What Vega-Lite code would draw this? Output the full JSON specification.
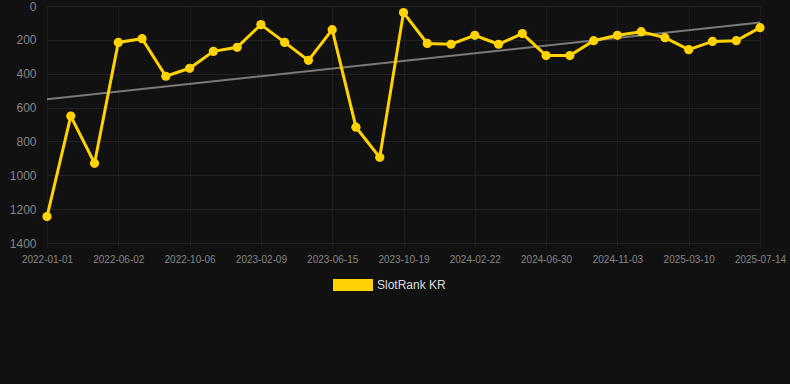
{
  "$schema": "https://vega.github.io/schema/vega-lite/v6.json",
  "width": 713,
  "height": 237,
  "autosize": {"type": "none"},
  "padding": {"left": 47, "top": 6, "right": 30, "bottom": 141},
  "background": "#111111",
  "config": {
    "view": {"stroke": null},
    "font": "Liberation Sans",
    "axis": {
      "gridColor": "#222222",
      "gridWidth": 1,
      "domain": false,
      "labelFont": "Liberation Sans",
      "labelColor": "#858585",
      "title": null
    }
  },
  "datasets": {
    "main": [
      {"date": "2022-01-01", "rank": 1244, "series": "SlotRank KR"},
      {"date": "2022-03-10", "rank": 650, "series": "SlotRank KR"},
      {"date": "2022-04-21", "rank": 929, "series": "SlotRank KR"},
      {"date": "2022-06-02", "rank": 215, "series": "SlotRank KR"},
      {"date": "2022-07-14", "rank": 193, "series": "SlotRank KR"},
      {"date": "2022-08-25", "rank": 415, "series": "SlotRank KR"},
      {"date": "2022-10-06", "rank": 368, "series": "SlotRank KR"},
      {"date": "2022-11-17", "rank": 268, "series": "SlotRank KR"},
      {"date": "2022-12-29", "rank": 244, "series": "SlotRank KR"},
      {"date": "2023-02-09", "rank": 110, "series": "SlotRank KR"},
      {"date": "2023-03-23", "rank": 215, "series": "SlotRank KR"},
      {"date": "2023-05-04", "rank": 321, "series": "SlotRank KR"},
      {"date": "2023-06-15", "rank": 140, "series": "SlotRank KR"},
      {"date": "2023-07-27", "rank": 716, "series": "SlotRank KR"},
      {"date": "2023-09-07", "rank": 894, "series": "SlotRank KR"},
      {"date": "2023-10-19", "rank": 39, "series": "SlotRank KR"},
      {"date": "2023-11-30", "rank": 221, "series": "SlotRank KR"},
      {"date": "2024-01-11", "rank": 226, "series": "SlotRank KR"},
      {"date": "2024-02-22", "rank": 173, "series": "SlotRank KR"},
      {"date": "2024-04-05", "rank": 226, "series": "SlotRank KR"},
      {"date": "2024-05-18", "rank": 163, "series": "SlotRank KR"},
      {"date": "2024-06-30", "rank": 293, "series": "SlotRank KR"},
      {"date": "2024-08-11", "rank": 293, "series": "SlotRank KR"},
      {"date": "2024-09-22", "rank": 205, "series": "SlotRank KR"},
      {"date": "2024-11-03", "rank": 173, "series": "SlotRank KR"},
      {"date": "2024-12-15", "rank": 152, "series": "SlotRank KR"},
      {"date": "2025-01-26", "rank": 187, "series": "SlotRank KR"},
      {"date": "2025-03-10", "rank": 258, "series": "SlotRank KR"},
      {"date": "2025-04-21", "rank": 209, "series": "SlotRank KR"},
      {"date": "2025-06-02", "rank": 205, "series": "SlotRank KR"},
      {"date": "2025-07-14", "rank": 128, "series": "SlotRank KR"}
    ],
    "trend": [
      {"date": "2022-01-01", "rank": 551},
      {"date": "2025-07-14", "rank": 98}
    ]
  },
  "encoding": {
    "x": {
      "field": "date",
      "type": "ordinal",
      "scale": {"type": "point", "padding": 0},
      "axis": {
        "values": ["2022-01-01", "2022-06-02", "2022-10-06", "2023-02-09", "2023-06-15", "2023-10-19", "2024-02-22", "2024-06-30", "2024-11-03", "2025-03-10", "2025-07-14"],
        "labelAngle": 0,
        "labelFontSize": 10,
        "labelPadding": 6,
        "ticks": true,
        "tickColor": "#1d1d1d",
        "gridColor": "#1d1d1d",
        "tickSize": 5,
        "grid": true
      }
    },
    "y": {
      "field": "rank",
      "type": "quantitative",
      "scale": {"domain": [0, 1400], "reverse": true, "nice": false},
      "axis": {
        "values": [0, 200, 400, 600, 800, 1000, 1200, 1400],
        "format": "d",
        "labelFontSize": 12,
        "labelPadding": 11,
        "ticks": false,
        "grid": true
      }
    }
  },
  "layer": [
    {
      "data": {"name": "trend"},
      "mark": {"type": "line", "color": "#7a7a7a", "strokeWidth": 2}
    },
    {
      "data": {"name": "main"},
      "mark": {"type": "line", "strokeWidth": 3},
      "encoding": {
        "color": {
          "field": "series",
          "type": "nominal",
          "scale": {"range": ["#FFD200"]},
          "legend": {
            "title": null,
            "orient": "none",
            "legendX": 286,
            "legendY": 259,
            "symbolType": "M-1,-0.3L1,-0.3L1,0.3L-1,0.3Z",
            "symbolSize": 1600,
            "symbolFillColor": "#FFD200",
            "symbolStrokeWidth": 0,
            "labelColor": "#dddddd",
            "labelFontSize": 12,
            "labelFont": "Liberation Sans"
          }
        }
      }
    },
    {
      "data": {"name": "main"},
      "mark": {"type": "point", "filled": true, "size": 85, "opacity": 1},
      "encoding": {
        "color": {"field": "series", "type": "nominal"}
      }
    }
  ]
}
